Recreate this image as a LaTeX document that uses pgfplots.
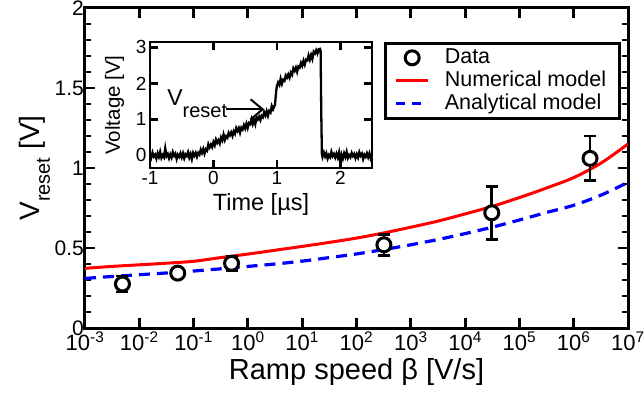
\documentclass[border=0pt]{standalone}
\usepackage{fontspec}
\setmainfont{Liberation Sans}
\usepackage{pgfplots}
\pgfplotsset{compat=1.18}
\usetikzlibrary{arrows.meta}
\newcommand\fs[1]{\fontsize{#1bp}{#1bp}\selectfont}
\begin{document}
\begin{tikzpicture}
\begin{axis}[
  name=main,
  scale only axis, width=543bp, height=320bp,
  xmode=log, xmin=1e-3, xmax=1e7,
  ymin=0, ymax=2,
  xtick={1e-3,1e-2,1e-1,1e0,1e1,1e2,1e3,1e4,1e5,1e6,1e7},
  xticklabels={10\textsuperscript{-3},10\textsuperscript{-2},10\textsuperscript{-1},10\textsuperscript{0},10\textsuperscript{1},10\textsuperscript{2},10\textsuperscript{3},10\textsuperscript{4},10\textsuperscript{5},10\textsuperscript{6},10\textsuperscript{7}},
  xminorticks=false,
  ytick={0,0.5,1,1.5,2}, yticklabels={0,0.5,1,1.5,2},
  minor y tick num=4,
  tick align=inside, tick pos=both,
  major tick length=10bp, minor tick length=6bp,
  tick style={line width=2.8bp, black},
  axis line style={line width=3bp},
  tick label style={font=\fs{21}},
  yticklabel style={inner sep=1bp},
  xticklabel style={font=\fs{22}, yshift=-3bp, inner sep=1bp},
  xlabel={Ramp speed β [V/s]},
  xlabel style={font=\fs{29}, yshift=-3bp},
  ylabel={V\raisebox{-10bp}{\fs{20}reset} [V]},
  ylabel style={font=\fs{28}},
  legend image code/.code={\draw[mark repeat=2,mark phase=2,#1] plot coordinates {(0bp,0bp) (16bp,0bp) (32bp,0bp)};},
  legend style={at={(0.551,0.894)}, anchor=north west, draw=black, line width=2.8bp,
    font=\fs{21.5}, inner xsep=9bp, inner ysep=5bp, row sep=4bp,
    nodes={inner sep=0bp, text height=15bp, text depth=4bp},
    /tikz/every odd column/.append style={column sep=15bp}},
  legend cell align=left,
]
\coordinate (bl) at (rel axis cs:0,0);
\addlegendimage{only marks, mark=*, mark size=7bp, mark options={fill=white, draw=black, line width=3bp, solid}}
\addlegendentry{Data}
\addlegendimage{red, line width=3bp}
\addlegendentry{Numerical model}
\addlegendimage{blue, line width=3.2bp, dash pattern=on 9bp off 7bp}
\addlegendentry{Analytical model\hspace*{9bp}}

\addplot[red, line width=3bp, smooth, forget plot] coordinates {
(1e-3,0.373) (3.16e-3,0.385) (1e-2,0.395) (3.16e-2,0.405) (1e-1,0.417)
(3.16e-1,0.44) (1,0.462) (3.16,0.486) (10,0.51) (31.6,0.535) (100,0.562)
(316,0.594) (1000,0.63) (3162,0.668) (1e4,0.713) (3.16e4,0.76) (1e5,0.815)
(3.16e5,0.875) (1e6,0.94) (3.16e6,1.03) (1e7,1.15)};
\addplot[blue, line width=3.2bp, dash pattern=on 11bp off 7bp, smooth, forget plot] coordinates {
(1e-3,0.31) (3.16e-3,0.322) (1e-2,0.333) (3.16e-2,0.344) (1e-1,0.356)
(3.16e-1,0.37) (1,0.385) (3.16,0.40) (10,0.418) (31.6,0.44) (100,0.463)
(316,0.49) (1000,0.52) (3162,0.553) (1e4,0.59) (3.16e4,0.63) (1e5,0.675)
(3.16e5,0.722) (1e6,0.767) (3.16e6,0.83) (1e7,0.91)};
\addplot[only marks, black, mark=*, mark size=7bp,
  mark options={fill=white, draw=black, line width=3bp},
  error bars/.cd, y dir=both, y explicit,
  error bar style={line width=2.8bp, black},
  error mark options={rotate=90, mark size=6bp, line width=2.8bp, black}]
  coordinates {
(4.9e-3,0.275) +- (0,0.05)
(5.1e-2,0.343) +- (0,0.02)
(0.5,0.404) +- (0,0.045)
(320,0.52) +- (0,0.065)
(3.1e4,0.72) +- (0,0.165)
(2.0e6,1.06) +- (0,0.14)};
\end{axis}

\begin{axis}[
  at={(bl)}, xshift=65bp, yshift=160bp, anchor=south west,
  scale only axis, width=222bp, height=126bp,
  xmin=-1, xmax=2.5, ymin=-0.35, ymax=3.15,
  xtick={-1,0,1,2}, xticklabels={-1,0,1,2},
  ytick={0,1,2,3}, yticklabels={0,1,2,3},
  tick align=inside, tick pos=both,
  major tick length=8bp,
  tick style={line width=2.5bp, black},
  axis line style={line width=2.8bp},
  tick label style={font=\fs{19}},
  xlabel={Time [µs]}, xlabel style={font=\fs{23.5}, yshift=-2bp},
  ylabel={Voltage [V]}, ylabel style={font=\fs{20.5}, yshift=5bp},
  axis background/.style={fill=white},
]
\addplot[black, line width=2.3bp] coordinates {
(-1.00,0.05) (-0.98,-0.06) (-0.96,0.08) (-0.94,-0.03) (-0.92,0.02) (-0.90,-0.09) (-0.88,0.06) (-0.86,-0.04) (-0.84,0.10) (-0.82,-0.07) (-0.80,0.01) (-0.78,-0.05) (-0.76,0.20) (-0.74,-0.02) (-0.72,0.04) (-0.70,-0.08) (-0.68,0.03) (-0.66,-0.06) (-0.64,0.09) (-0.62,-0.01) (-0.60,0.05) (-0.58,-0.10) (-0.56,0.02) (-0.54,-0.04) (-0.52,0.06) (-0.50,-0.05) (-0.48,0.06) (-0.46,-0.08) (-0.44,0.03) (-0.42,-0.02) (-0.40,0.09) (-0.38,-0.06) (-0.36,0.04) (-0.34,-0.10) (-0.32,0.07) (-0.30,-0.01)
(-0.28,0.07) (-0.26,-0.04) (-0.24,0.07) (-0.22,0.02) (-0.20,0.16) (-0.18,0.07) (-0.16,0.18) (-0.14,0.05) (-0.12,0.17) (-0.10,0.13) (-0.08,0.31) (-0.06,0.22) (-0.04,0.30) (-0.02,0.23)
(0.00,0.37) (0.02,0.28) (0.04,0.44) (0.06,0.35) (0.08,0.42) (0.10,0.33) (0.12,0.50) (0.14,0.42) (0.16,0.58) (0.18,0.43) (0.20,0.53) (0.22,0.49) (0.24,0.63) (0.26,0.56) (0.28,0.64) (0.30,0.54) (0.32,0.67) (0.34,0.60) (0.36,0.76) (0.38,0.68) (0.40,0.76) (0.42,0.63) (0.44,0.77) (0.46,0.72) (0.48,0.84)
(0.50,0.75) (0.52,0.88) (0.54,0.76) (0.56,0.90) (0.58,0.87) (0.60,1.00) (0.62,0.87) (0.64,0.99) (0.66,0.87) (0.68,1.06) (0.70,1.00) (0.72,1.08) (0.74,0.98) (0.76,1.10) (0.78,1.06) (0.80,1.20) (0.82,1.11) (0.84,1.23) (0.86,1.10) (0.88,1.23) (0.90,1.19) (0.92,1.37) (0.94,1.28) (0.96,1.37)
(0.97,1.40) (0.98,1.60) (0.99,1.80) (1.00,1.92)
(1.02,2.03) (1.04,1.96) (1.06,2.13) (1.08,1.99) (1.10,2.10) (1.12,2.07) (1.14,2.22) (1.16,2.16) (1.18,2.25) (1.20,2.16) (1.22,2.30) (1.24,2.24) (1.26,2.42) (1.28,2.35) (1.30,2.44) (1.32,2.32) (1.34,2.47) (1.36,2.44) (1.38,2.57) (1.40,2.49) (1.42,2.63) (1.44,2.52) (1.46,2.66) (1.48,2.64) (1.50,2.78) (1.52,2.66) (1.54,2.79) (1.56,2.68) (1.58,2.88) (1.60,2.83) (1.62,2.92) (1.64,2.83) (1.66,2.95)
(1.68,2.96) (1.69,2.90) (1.70,1.20) (1.71,0.05)
(1.72,-0.04) (1.74,0.08) (1.76,-0.03) (1.78,0.06) (1.80,-0.09) (1.82,0.01) (1.84,-0.05) (1.86,0.10) (1.88,-0.02) (1.90,0.04) (1.92,-0.06) (1.94,0.05) (1.96,-0.06) (1.98,0.08) (2.00,-0.20) (2.02,0.02) (2.04,-0.09) (2.06,0.06) (2.08,-0.04) (2.10,0.10) (2.12,-0.07) (2.14,0.01) (2.16,-0.05) (2.18,0.07) (2.20,-0.02) (2.22,0.04) (2.24,-0.08) (2.26,0.03) (2.28,-0.06) (2.30,0.09) (2.32,-0.01) (2.34,0.05) (2.36,-0.10) (2.38,0.02) (2.40,-0.04) (2.42,0.06) (2.44,-0.05) (2.46,0.06) (2.48,-0.08) (2.50,0.03)};
\draw[line width=2bp, -{Straight Barb[length=12bp, width=20bp, line width=2bp]}] (axis cs:0.2,1.28) -- (axis cs:0.8,1.28);
\node[anchor=base west, inner sep=0pt] at (axis cs:-0.73,1.39) {\fs{23}V\raisebox{-12bp}{\fs{20}reset}};
\end{axis}
\pgfresetboundingbox
\path[use as bounding box] ([xshift=-85bp,yshift=-77bp]bl) rectangle ([xshift=559bp,yshift=328bp]bl);
\end{tikzpicture}
\end{document}
